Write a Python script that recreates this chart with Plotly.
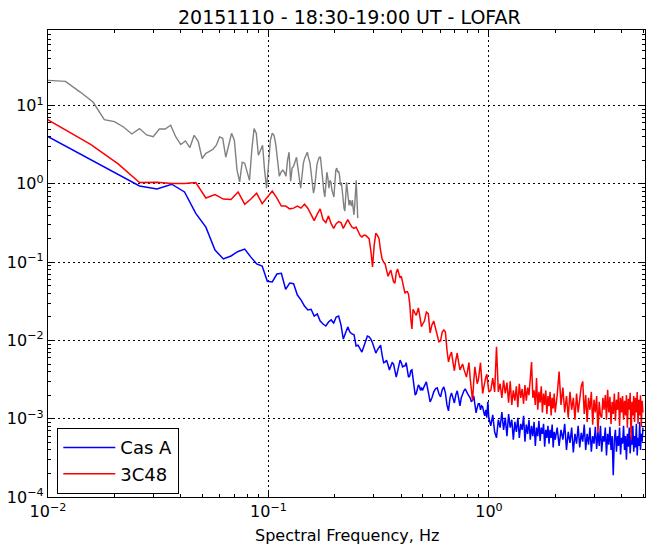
import numpy as np
import plotly.graph_objects as go

# ---------------- data ----------------
# Cas A / 3C48 spectra: frequency resolution and bin indices shown
DF_RB = 0.0052          # Hz per bin
bins_low = list(range(1, 97))          # every bin up to ~0.5 Hz
bins_mid = list(range(98, 193, 2))     # 0.5 - 1 Hz
bins_hi1 = list(range(196, 385, 4))    # 1 - 2 Hz
bins_hi2 = list(range(392, 961, 8))    # 2 - 5 Hz

cas_a_low = [10.8, 3.78, 2.05, 1.33, 0.94, 0.86, 0.99, 0.79, 0.42, 0.28,
             0.143, 0.110, 0.120, 0.137, 0.147, 0.116, 0.095, 0.089, 0.057, 0.056,
             0.0705, 0.072, 0.045, 0.054, 0.053, 0.038, 0.033, 0.0275, 0.0245, 0.025,
             0.0205, 0.0218, 0.0177, 0.0162, 0.0153, 0.0172, 0.0183, 0.0167, 0.0199, 0.0205,
             0.0158, 0.0104, 0.0128, 0.0149, 0.0128, 0.0121, 0.0118, 0.0085, 0.0087, 0.0080,
             0.0071, 0.0083, 0.0101, 0.0114, 0.0111, 0.0104, 0.0093, 0.0078, 0.0069, 0.0076,
             0.0083, 0.0087, 0.0065, 0.0052, 0.0053, 0.0056, 0.0049, 0.0042, 0.0047, 0.0052,
             0.0050, 0.0040, 0.0034, 0.0040, 0.0049, 0.0056, 0.0052, 0.0046, 0.0047, 0.0047,
             0.0052, 0.0042, 0.0034, 0.0035, 0.0041, 0.0042, 0.0033, 0.0026, 0.0020, 0.0021,
             0.0025, 0.0027, 0.0026, 0.0023, 0.0025, 0.0023]
cas_a_mid = [2.63e-3, 2.96e-3, 2.20e-3, 1.64e-3, 1.85e-3, 2.20e-3, 2.41e-3, 2.48e-3, 2.08e-3, 1.90e-3,
             2.34e-3, 2.55e-3, 2.14e-3, 1.50e-3, 1.26e-3, 1.85e-3, 2.14e-3, 1.79e-3, 1.59e-3, 2.02e-3,
             2.27e-3, 1.85e-3, 1.46e-3, 1.85e-3, 2.14e-3, 2.27e-3, 2.41e-3, 2.20e-3, 2.08e-3, 1.96e-3,
             1.85e-3, 1.64e-3, 1.74e-3, 1.96e-3, 1.38e-3, 1.19e-3, 1.38e-3, 1.55e-3, 1.55e-3, 1.30e-3,
             1.46e-3, 1.42e-3, 1.22e-3, 1.09e-3, 1.30e-3, 1.03e-3, 1.64e-3, 1.03e-3]
cas_a_hi1 = [8.1e-4, 1.12e-3, 6.8e-4, 5.7e-4, 9.7e-4, 7.7e-4, 1.22e-3, 7.2e-4, 1.03e-3, 6.0e-4,
             1.15e-3, 7.7e-4, 9.7e-4, 5.4e-4, 9.1e-4, 6.8e-4, 1.03e-3, 5.7e-4, 8.6e-4, 7.2e-4,
             1.09e-3, 5.1e-4, 8.4e-4, 6.4e-4, 9.7e-4, 5.4e-4, 8.1e-4, 6.0e-4, 9.1e-4, 4.5e-4,
             7.7e-4, 6.0e-4, 9.4e-4, 5.2e-4, 7.7e-4, 6.4e-4, 8.6e-4, 4.4e-4, 7.2e-4, 5.7e-4,
             8.1e-4, 4.8e-4, 7.2e-4, 5.7e-4, 8.4e-4, 4.3e-4, 6.8e-4, 5.4e-4]
cas_a_hi2 = [7.7e-4, 4.5e-4, 7.2e-4, 5.4e-4, 8.6e-4, 4.0e-4, 6.8e-4, 4.9e-4, 7.7e-4, 3.7e-4,
             6.4e-4, 4.8e-4, 8.1e-4, 4.3e-4, 6.6e-4, 5.1e-4, 8.4e-4, 4.0e-4, 6.4e-4, 4.65e-4,
             7.7e-4, 3.8e-4, 6.0e-4, 4.8e-4, 7.9e-4, 4.1e-4, 6.8e-4, 4.5e-4, 8.1e-4, 3.8e-4,
             6.0e-4, 5.1e-4, 7.7e-4, 3.4e-4, 6.4e-4, 4.65e-4, 7.9e-4, 4.0e-4, 6.0e-4, 1.9e-4,
             5.4e-4, 7.2e-4, 3.8e-4, 6.0e-4, 4.5e-4, 7.7e-4, 3.5e-4, 5.7e-4, 4.8e-4, 8.1e-4,
             4.0e-4, 6.0e-4, 3.0e-4, 6.4e-4, 4.4e-4, 7.7e-4, 3.6e-4, 5.9e-4, 4.65e-4, 8.1e-4,
             3.8e-4, 6.0e-4, 4.3e-4, 8.6e-4, 3.4e-4, 5.7e-4, 4.5e-4, 9.1e-4, 4.0e-4, 6.4e-4,
             5.1e-4, 7.7e-4]

c3c48_low = [19, 6.1, 3.2, 1.8, 1.04, 1.05, 1.01, 1.01, 1.04, 0.66,
             0.73, 0.64, 0.63, 0.79, 0.55, 0.64, 0.76, 0.56, 0.68, 0.81,
             0.66, 0.52, 0.52, 0.48, 0.49, 0.52, 0.49, 0.55, 0.49, 0.41,
             0.34, 0.41, 0.48, 0.35, 0.32, 0.39, 0.31, 0.27, 0.31, 0.33,
             0.32, 0.27, 0.31, 0.35, 0.31, 0.28, 0.27, 0.28, 0.25, 0.22,
             0.21, 0.22, 0.22, 0.21, 0.20, 0.14, 0.087, 0.165, 0.235, 0.22,
             0.20, 0.14, 0.11, 0.10, 0.095, 0.079, 0.066, 0.073, 0.079, 0.066,
             0.056, 0.054, 0.073, 0.082, 0.070, 0.063, 0.066, 0.056, 0.047, 0.040,
             0.042, 0.042, 0.039, 0.030, 0.019, 0.014, 0.025, 0.023, 0.022, 0.021,
             0.024, 0.026, 0.022, 0.017, 0.015, 0.016]
c3c48_mid = [0.0177, 0.023, 0.022, 0.0125, 0.0158, 0.0177, 0.0144, 0.0125, 0.0096, 0.0099,
             0.0128, 0.0136, 0.0128, 0.0076, 0.0053, 0.0064, 0.0071, 0.0053, 0.0041, 0.0056,
             0.0069, 0.0053, 0.0042, 0.0046, 0.0050, 0.0043, 0.0037, 0.0034, 0.0042, 0.0052,
             0.0033, 0.0022, 0.0017, 0.0030, 0.0046, 0.0036, 0.0028, 0.0031, 0.0042, 0.0052,
             0.0033, 0.0021, 0.0025, 0.0030, 0.0034, 0.0037, 0.0027, 0.0022]
c3c48_hi1 = [2.3e-3, 3.3e-3, 2.2e-3, 8.3e-3, 2.2e-3, 2.8e-3, 1.85e-3, 3.1e-3, 2.1e-3, 2.9e-3,
             1.6e-3, 3.0e-3, 1.5e-3, 2.3e-3, 1.7e-3, 2.6e-3, 1.4e-3, 2.8e-3, 1.85e-3, 2.4e-3,
             1.55e-3, 2.7e-3, 1.7e-3, 2.5e-3, 2.0e-3, 3.1e-3, 5.3e-3, 1.85e-3, 2.3e-3, 1.5e-3,
             3.3e-3, 1.3e-3, 2.2e-3, 1.6e-3, 2.6e-3, 1.2e-3, 2.1e-3, 1.5e-3, 2.3e-3, 1.15e-3,
             1.95e-3, 1.45e-3, 2.2e-3, 1.1e-3, 1.85e-3, 1.35e-3, 2.1e-3, 1.2e-3]
c3c48_hi2 = [2.0e-3, 4.0e-3, 1.5e-3, 2.5e-3, 1.2e-3, 1.95e-3, 1.03e-3, 2.2e-3, 1.3e-3, 1.85e-3,
             0.97e-3, 2.1e-3, 1.2e-3, 1.75e-3, 2.6e-3, 3.0e-3, 1.15e-3, 2.0e-3, 0.91e-3, 1.85e-3,
             1.3e-3, 2.2e-3, 0.84e-3, 1.75e-3, 1.2e-3, 1.95e-3, 0.66e-3, 1.65e-3, 1.1e-3, 1.03e-3,
             1.85e-3, 1.3e-3, 2.0e-3, 0.97e-3, 2.35e-3, 1.2e-3, 1.9e-3, 0.86e-3, 1.65e-3, 1.15e-3,
             2.1e-3, 0.94e-3, 1.75e-3, 1.3e-3, 2.2e-3, 0.81e-3, 1.85e-3, 1.2e-3, 1.95e-3, 0.97e-3,
             1.7e-3, 1.1e-3, 2.0e-3, 0.77e-3, 1.8e-3, 1.3e-3, 2.15e-3, 0.54e-3, 1.65e-3, 1.1e-3,
             1.95e-3, 0.91e-3, 1.85e-3, 1.2e-3, 2.2e-3, 0.86e-3, 1.75e-3, 1.1e-3, 2.0e-3, 0.79e-3,
             1.7e-3, 1.2e-3]

# grey (unlabelled) spectrum, finer resolution, up to ~0.25 Hz
DF_GRAY = 0.002
bins_gray = list(range(5, 128))
gray_vals = [21, 20.4, 14.9, 11.1, 6.63, 6.25, 5.33, 4.34, 5.09, 4.22,
             4.02, 5.03, 5.03, 5.61, 3.98, 3.18, 3.54, 2.91, 4.18, 3.50,
             2.11, 2.46, 2.61, 2.77, 3.12, 3.98, 3.83, 2.19, 3.12, 4.43,
             3.61, 1.50, 1.06, 1.89, 1.84, 1.41, 1.11, 2.69, 5.09, 4.43,
             2.32, 2.69, 3.12, 1.50, 0.88, 1.73, 3.61, 4.43, 4.18, 3.12,
             1.84, 1.25, 1.41, 1.50, 1.41, 1.25, 2.01, 2.54, 1.08, 1.59,
             1.68, 1.89, 2.19, 1.59, 1.11, 0.88, 1.29, 1.84, 2.13, 2.39,
             2.54, 2.13, 1.89, 1.41, 0.96, 0.76, 0.91, 1.41, 1.78, 2.01,
             2.19, 2.19, 1.73, 1.18, 0.83, 0.68, 0.96, 1.41, 1.18, 0.88,
             1.11, 1.05, 0.83, 0.72, 0.68, 1.02, 1.50, 1.59, 1.41, 1.45,
             1.29, 0.96, 1.05, 0.83, 0.62, 0.49, 0.45, 0.72, 1.05, 0.83,
             0.66, 0.53, 0.62, 0.53, 0.52, 0.62, 0.50, 0.40, 0.53, 0.83,
             1.11, 0.62, 0.365]

x_ticks = [0.01, 0.1, 1]
x_ticktext = ['10<sup>\u22122</sup>', '10<sup>\u22121</sup>', '10<sup>0</sup>']
y_ticks = [1e-4, 1e-3, 1e-2, 1e-1, 1, 10]
y_ticktext = ['10<sup>\u22124</sup>', '10<sup>\u22123</sup>', '10<sup>\u22122</sup>',
              '10<sup>\u22121</sup>', '10<sup>0</sup>', '10<sup>1</sup>']

TITLE = '20151110 - 18:30-19:00 UT - LOFAR'
XLABEL = 'Spectral Frequency, Hz'

# ---------------- figure ----------------
freq_rb = DF_RB * np.array(bins_low + bins_mid + bins_hi1 + bins_hi2, dtype=float)
cas_a = cas_a_low + cas_a_mid + cas_a_hi1 + cas_a_hi2
c3c48 = c3c48_low + c3c48_mid + c3c48_hi1 + c3c48_hi2
freq_gray = DF_GRAY * np.array(bins_gray, dtype=float)

FONT = 'DejaVu Sans'

fig = go.Figure()
fig.add_trace(go.Scatter(x=freq_gray, y=gray_vals, mode='lines',
                         line=dict(color='#808080', width=1.4), showlegend=False))
fig.add_trace(go.Scatter(x=freq_rb, y=cas_a, mode='lines', name='Cas A',
                         line=dict(color='#0000ff', width=1.5)))
fig.add_trace(go.Scatter(x=freq_rb, y=c3c48, mode='lines', name='3C48',
                         line=dict(color='#ff0000', width=1.5)))

def minor_vals(lo, hi):
    out = []
    for e in range(lo, hi):
        for m in range(2, 10):
            out.append(m * 10.0 ** e)
    return out

common = dict(type='log', showline=True, linecolor='black', linewidth=1.3, mirror='ticks',
              ticks='inside', ticklen=6, tickwidth=1, tickcolor='black',
              showgrid=True, gridcolor='black', gridwidth=1, griddash='2px,3px',
              zeroline=False, tickmode='array', automargin=False,
              tickfont=dict(family=FONT, size=16, color='black'))

fig.update_layout(
    width=646, height=546,
    margin=dict(l=48, r=1, t=30, b=49, autoexpand=False),
    paper_bgcolor='white', plot_bgcolor='white',
    font=dict(family=FONT, color='black'),
    xaxis=dict(range=[-2, 0.7076], tickvals=x_ticks, ticktext=x_ticktext,
               minor=dict(tickvals=minor_vals(-2, 1), ticks='inside', ticklen=3,
                          tickcolor='black', showgrid=False), **common),
    yaxis=dict(range=[-4, 1.966], tickvals=y_ticks, ticktext=y_ticktext,
               minor=dict(tickvals=minor_vals(-4, 2), ticks='inside', ticklen=3,
                          tickcolor='black', showgrid=False), **common),
    legend=dict(x=0.0151, y=0.148, xanchor='left', yanchor='top',
                bordercolor='black', borderwidth=1.3, bgcolor='white',
                font=dict(family=FONT, size=18, color='black'),
                entrywidth=66, itemwidth=52, tracegroupgap=0),
    showlegend=True,
    annotations=[
        dict(text=TITLE, xref='paper', yref='paper', x=0.505, y=1 + 13 / 467,
             xanchor='center', yanchor='middle', showarrow=False,
             font=dict(family=FONT, size=19, color='black')),
        dict(text=XLABEL, xref='paper', yref='paper', x=0.5, y=-38 / 467,
             xanchor='center', yanchor='middle', showarrow=False,
             font=dict(family=FONT, size=16, color='black')),
    ],
)

fig.write_html('out.html', config={'displayModeBar': False},
               post_script="document.body.style.margin='0px';document.body.style.overflow='hidden';")
